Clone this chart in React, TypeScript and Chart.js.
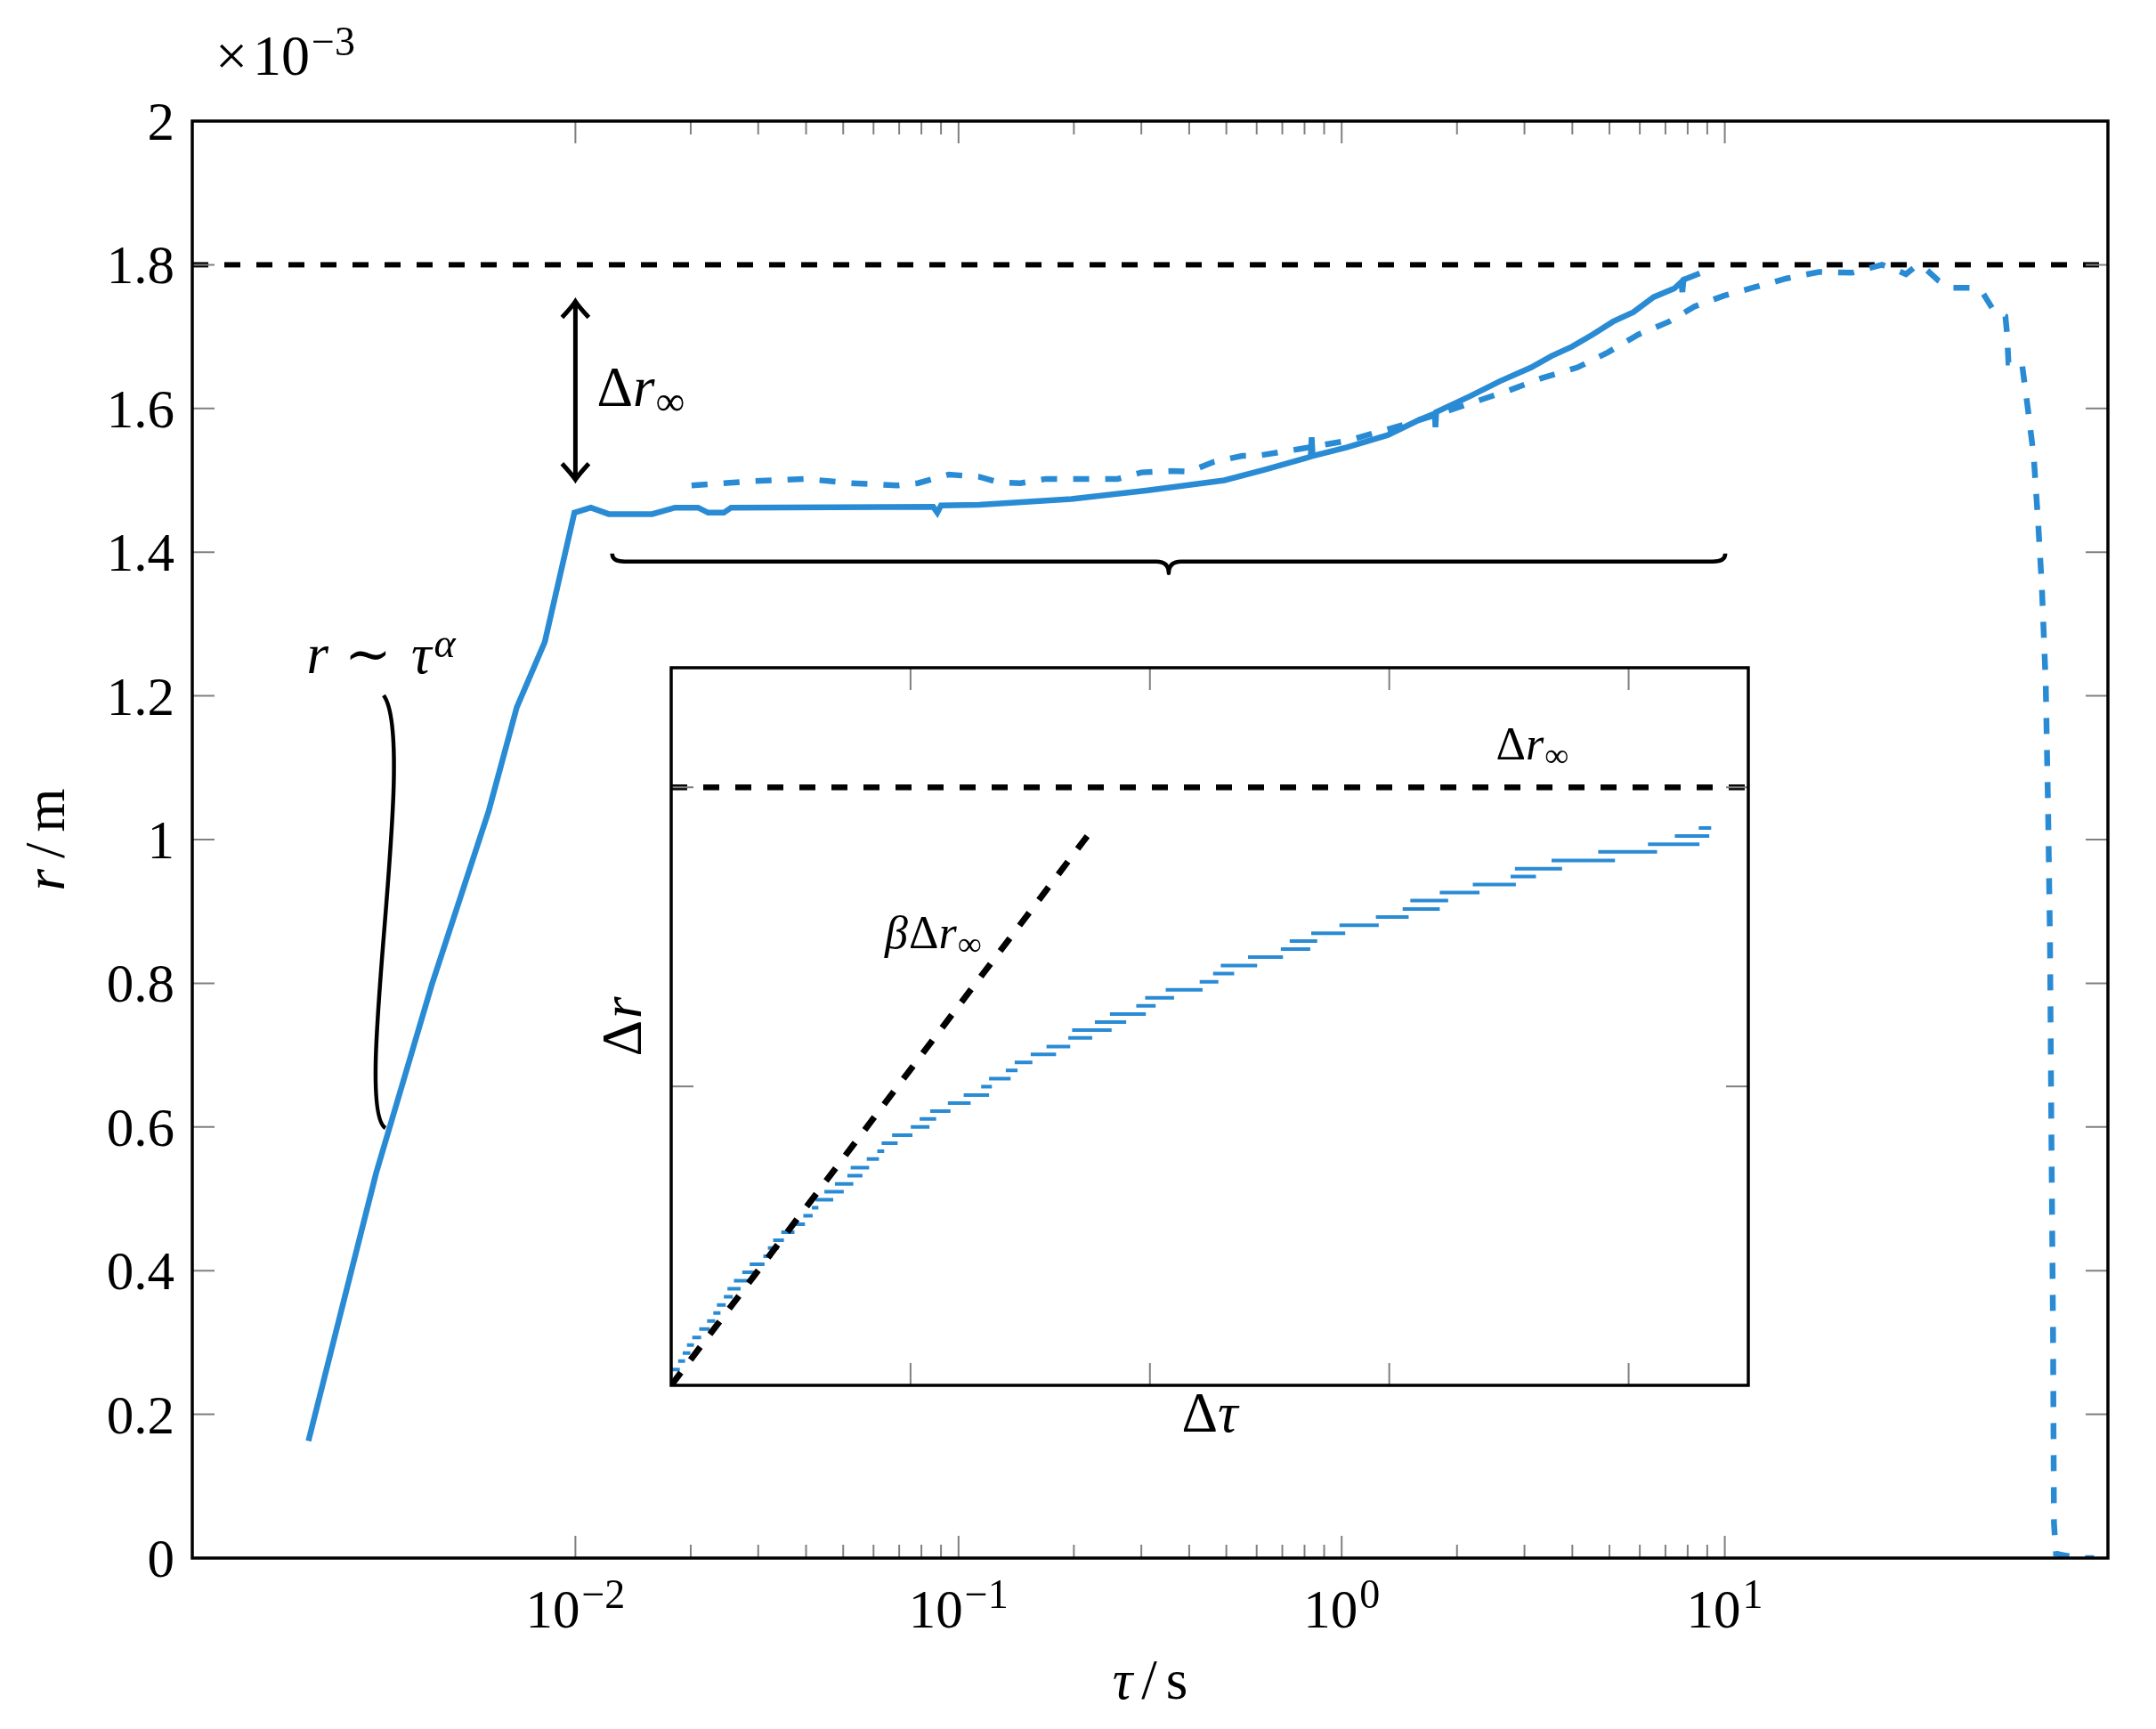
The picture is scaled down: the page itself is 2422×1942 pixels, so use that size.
import { useEffect, useRef } from 'react';
import { Chart, registerables, type ChartConfiguration, type Plugin } from 'chart.js';

Chart.register(...registerables);

// ── Page & style ───────────────────────────────────────────────────────────────

const W = 2422;
const H = 1942;
const BLUE = '#2a8bd5';
const INK = '#000000';
const TICK = '#808080';
const SERIF = '"Liberation Serif", "DejaVu Serif", serif';
const FS = 61;       // tick & axis labels
const FS_SUP = 46;   // superscripts
const FS_NOTE = 52;  // inset annotations

const MAIN_AREA = { left: 216, top: 136, right: 2368, bottom: 1750 };
const INSET_AREA = { left: 754, top: 750, right: 1964, bottom: 1556 };

// ── Main plot data (tau in s, r in 1e-3 m) ─────────────────────────────────────

const SOLID_TAU = [
  0.00201, 0.00244, 0.00302, 0.00423, 0.00594, 0.00703, 0.00832, 0.00994, 0.01097, 0.01222,
  0.01585, 0.0182, 0.0209, 0.0222, 0.0244, 0.0255, 0.0859, 0.088, 0.09, 0.113,
  0.197, 0.312, 0.494, 0.632, 0.808, 0.83, 0.835, 0.84, 1.033, 1.32,
  1.59, 1.75, 1.757, 1.765, 2.16, 2.59, 3.12, 3.53, 3.99, 4.52,
  5.11, 5.77, 6.52, 7.38, 7.7, 7.75, 7.8, 8.6,
];
const SOLID_R = [
  0.163, 0.341, 0.536, 0.8, 1.04, 1.184, 1.275, 1.455, 1.462, 1.453,
  1.453, 1.462, 1.462, 1.455, 1.455, 1.462, 1.463, 1.455, 1.465, 1.466,
  1.474, 1.486, 1.5, 1.515, 1.531, 1.533, 1.56, 1.534, 1.546, 1.563,
  1.584, 1.593, 1.574, 1.595, 1.617, 1.638, 1.657, 1.673, 1.686, 1.703,
  1.721, 1.734, 1.755, 1.767, 1.776, 1.762, 1.779, 1.788,
];

const DASH_TAU = [
  0.0201, 0.0293, 0.0398, 0.0525, 0.0692, 0.0783, 0.0942, 0.113, 0.128, 0.145,
  0.169, 0.26, 0.3, 0.36, 0.4, 0.465, 0.55, 0.6, 0.784, 1.03,
  1.32, 1.69, 2.22, 2.76, 3.32, 4.12, 4.95, 5.95, 7.16, 8.34,
  9.95, 12.0, 14.5, 17.6, 21.5, 25.7, 28, 29.7, 31.5, 33,
  36.1, 38.9, 44.2, 47, 50.5, 54, 54.5, 55, 59.6,
  61.8, 64, 65.7, 67.2, 68.8, 69.8, 70.6, 71.2, 71.9, 72.3,
  73.2, 84, 92,
];
const DASH_R = [
  1.493, 1.499, 1.502, 1.496, 1.493, 1.496, 1.508, 1.505, 1.497, 1.496,
  1.502, 1.502, 1.511, 1.513, 1.512, 1.526, 1.534, 1.534, 1.544, 1.555,
  1.571, 1.588, 1.609, 1.626, 1.642, 1.657, 1.678, 1.703, 1.721, 1.742,
  1.757, 1.769, 1.781, 1.79, 1.789, 1.8, 1.793, 1.787, 1.798, 1.797,
  1.778, 1.768, 1.768, 1.762, 1.735, 1.728, 1.706, 1.664, 1.664,
  1.6, 1.534, 1.444, 1.354, 1.219, 1.039, 0.859, 0.589, 0.318, 0.048,
  0.006, 0, 0,
];

const R_INF = 1.8;
const TAU_MIN = 0.001;
const TAU_MAX = 100;

// ── Main axes ──────────────────────────────────────────────────────────────────

const X_TICKS = [0.01, 0.1, 1, 10];
const X_TICK_EXP = ['−2', '−1', '0', '1'];
const X_MINOR_DECADES = [0.01, 0.1, 1];
const X_MINOR_MULT = [2, 3, 4, 5, 6, 7, 8, 9];
const Y_TICKS = [0, 0.2, 0.4, 0.6, 0.8, 1, 1.2, 1.4, 1.6, 1.8, 2];
const Y_TICK_LABELS = ['0', '0.2', '0.4', '0.6', '0.8', '1', '1.2', '1.4', '1.6', '1.8', '2'];

// ── Annotation anchors (data coordinates) ─────────────────────────────────────

const ARROW_TAU = 0.01;
const ARROW_R = [1.501, 1.749];
const BRACE_TAU = [0.01247, 10.03];
const BRACE_R = 1.387;
const PIN_TAU = [0.003159, 0.003891, 0.002605, 0.003193];
const PIN_R = [1.2007, 1.1338, 0.6258, 0.5985];
const POWER_LABEL = { tau: 0.00311, r: 1.2317 };

// ── Inset data ─────────────────────────────────────────────────────────────────

const STEP_LEVEL = [
  0.053, 0.081, 0.108, 0.135, 0.16, 0.188, 0.215, 0.242, 0.269, 0.296,
  0.323, 0.35, 0.378, 0.405, 0.432, 0.459, 0.485, 0.512, 0.539, 0.567,
  0.594, 0.621, 0.648, 0.674, 0.701, 0.728, 0.757, 0.783, 0.81, 0.837,
  0.864, 0.891, 0.917, 0.944, 0.971, 0.999, 1.026, 1.053, 1.08, 1.107,
  1.133, 1.162, 1.188, 1.215, 1.242, 1.269, 1.296, 1.323, 1.35, 1.377,
  1.404, 1.432, 1.459, 1.486, 1.512, 1.539, 1.566, 1.593, 1.621, 1.648,
  1.675, 1.702, 1.728, 1.755, 1.784, 1.81, 1.837, 1.864,
];
const STEP_START = [
  0.0, 0.029, 0.048, 0.066, 0.088, 0.117, 0.15, 0.176, 0.191, 0.22,
  0.235, 0.262, 0.297, 0.328, 0.385, 0.404, 0.426, 0.46, 0.507, 0.552,
  0.588, 0.603, 0.64, 0.684, 0.736, 0.75, 0.817, 0.861, 0.879, 0.923,
  1.001, 1.038, 1.082, 1.156, 1.222, 1.295, 1.328, 1.398, 1.435, 1.502,
  1.568, 1.659, 1.675, 1.77, 1.833, 1.943, 1.98, 2.066, 2.208, 2.264,
  2.296, 2.41, 2.547, 2.584, 2.674, 2.792, 2.944, 3.056, 3.088, 3.211,
  3.349, 3.507, 3.525, 3.678, 3.873, 4.081, 4.193, 4.293,
];
const STEP_END = [
  0.036, 0.058, 0.08, 0.095, 0.125, 0.161, 0.184, 0.206, 0.228, 0.257,
  0.29, 0.323, 0.353, 0.39, 0.422, 0.449, 0.471, 0.515, 0.559, 0.591,
  0.615, 0.677, 0.721, 0.761, 0.799, 0.827, 0.868, 0.89, 0.946, 1.008,
  1.079, 1.107, 1.167, 1.251, 1.328, 1.34, 1.418, 1.447, 1.509, 1.608,
  1.667, 1.759, 1.84, 1.901, 1.983, 2.024, 2.101, 2.22, 2.286, 2.352,
  2.448, 2.556, 2.67, 2.699, 2.816, 2.956, 3.081, 3.211, 3.246, 3.377,
  3.529, 3.613, 3.722, 3.943, 4.119, 4.296, 4.337, 4.345,
];

const DR_INF = 2;
const BETA_LINE_X = [0, 1.76];
const BETA_LINE_Y = [0, 1.86];
const INSET_X_MAX = 4.5;
const INSET_Y_MAX = 2.4;
const INSET_X_TICKS = [1, 2, 3, 4];
const INSET_Y_TICKS = [1, 2];
const BETA_LABEL = { x: 1.095, y: 1.462 };
const DRINF_LABEL = { x: 3.598, y: 2.092 };

// ── Text helpers ───────────────────────────────────────────────────────────────

type Run = { t: string; it?: boolean; size?: number; dy?: number; gap?: number };

function setFont(ctx: CanvasRenderingContext2D, r: Run, base: number) {
  ctx.font = `${r.it ? 'italic ' : ''}${r.size ?? base}px ${SERIF}`;
}

function drawRuns(
  ctx: CanvasRenderingContext2D,
  runs: Run[],
  x: number,
  y: number,
  align: 'left' | 'center' = 'left',
  base = FS,
) {
  ctx.textAlign = 'left';
  ctx.textBaseline = 'alphabetic';
  ctx.fillStyle = INK;
  let w = 0;
  for (const r of runs) {
    setFont(ctx, r, base);
    w += ctx.measureText(r.t).width + (r.gap ?? 0);
  }
  let cx = align === 'center' ? x - w / 2 : x;
  for (const r of runs) {
    setFont(ctx, r, base);
    ctx.fillText(r.t, cx, y + (r.dy ?? 0));
    cx += ctx.measureText(r.t).width + (r.gap ?? 0);
  }
}

// ── Main chart decorations ─────────────────────────────────────────────────────

const mainDecor: Plugin<'line'> = {
  id: 'mainDecor',
  afterDatasetsDraw(chart) {
    const { ctx, chartArea: a, scales } = chart;
    const px = (v: number) => scales.x.getPixelForValue(v);
    const py = (v: number) => scales.y.getPixelForValue(v);
    ctx.save();

    // inward ticks
    ctx.strokeStyle = TICK;
    ctx.lineWidth = 2;
    ctx.beginPath();
    for (const d of X_MINOR_DECADES) {
      for (const m of X_MINOR_MULT) {
        const x = px(m * d);
        ctx.moveTo(x, a.bottom); ctx.lineTo(x, a.bottom - 15);
        ctx.moveTo(x, a.top); ctx.lineTo(x, a.top + 15);
      }
    }
    for (const v of X_TICKS) {
      const x = px(v);
      ctx.moveTo(x, a.bottom); ctx.lineTo(x, a.bottom - 25);
      ctx.moveTo(x, a.top); ctx.lineTo(x, a.top + 25);
    }
    for (const v of Y_TICKS) {
      const y = py(v);
      ctx.moveTo(a.left, y); ctx.lineTo(a.left + 25, y);
      ctx.moveTo(a.right, y); ctx.lineTo(a.right - 25, y);
    }
    ctx.stroke();

    // frame
    ctx.strokeStyle = INK;
    ctx.lineWidth = 3.5;
    ctx.strokeRect(a.left, a.top, a.right - a.left, a.bottom - a.top);

    // tick labels
    ctx.fillStyle = INK;
    ctx.font = `${FS}px ${SERIF}`;
    ctx.textAlign = 'right';
    ctx.textBaseline = 'alphabetic';
    Y_TICKS.forEach((v, i) => ctx.fillText(Y_TICK_LABELS[i], a.left - 20, py(v) + 21));
    X_TICKS.forEach((v, i) => {
      drawRuns(ctx, [{ t: '10', gap: 2 }, { t: X_TICK_EXP[i], size: FS_SUP, dy: -22 }], px(v), a.bottom + 78, 'center');
    });

    // scale factor
    drawRuns(ctx, [{ t: '×', gap: 6 }, { t: '10', gap: 2 }, { t: '−3', size: FS_SUP, dy: -22 }], 242, a.top - 52, 'left', 64);

    // axis labels
    drawRuns(ctx, [{ t: 'τ', it: true, gap: 10 }, { t: '/', gap: 10 }, { t: 's' }], (a.left + a.right) / 2, 1908, 'center', 63);
    ctx.save();
    ctx.translate(72, (a.top + a.bottom) / 2);
    ctx.rotate(-Math.PI / 2);
    drawRuns(ctx, [{ t: 'r', it: true, gap: 12 }, { t: '/', gap: 12 }, { t: 'm' }], 0, 0, 'center', 63);
    ctx.restore();

    // double arrow for Δr∞
    const ax = px(ARROW_TAU);
    const yLo = py(ARROW_R[0]);
    const yHi = py(ARROW_R[1]);
    ctx.strokeStyle = INK;
    ctx.lineWidth = 5;
    ctx.lineJoin = 'miter';
    ctx.beginPath();
    ctx.moveTo(ax, yHi + 2);
    ctx.lineTo(ax, yLo - 2);
    ctx.moveTo(ax - 15, yHi + 18);
    ctx.quadraticCurveTo(ax - 4, yHi + 6, ax, yHi);
    ctx.quadraticCurveTo(ax + 4, yHi + 6, ax + 15, yHi + 18);
    ctx.moveTo(ax - 15, yLo - 18);
    ctx.quadraticCurveTo(ax - 4, yLo - 6, ax, yLo);
    ctx.quadraticCurveTo(ax + 4, yLo - 6, ax + 15, yLo - 18);
    ctx.stroke();
    drawRuns(ctx, [{ t: 'Δ' }, { t: 'r', it: true, gap: 1 }, { t: '∞', size: 46, dy: 10 }], ax + 24, (yLo + yHi) / 2 + 17, 'left', 63);

    // brace
    const bx0 = px(BRACE_TAU[0]);
    const bx1 = px(BRACE_TAU[1]);
    const bxm = (bx0 + bx1) / 2;
    const by = py(BRACE_R);
    ctx.lineWidth = 4.5;
    ctx.lineJoin = 'round';
    ctx.beginPath();
    ctx.moveTo(bx0, by - 9);
    ctx.quadraticCurveTo(bx0, by, bx0 + 14, by);
    ctx.lineTo(bxm - 14, by);
    ctx.quadraticCurveTo(bxm, by, bxm, by + 13);
    ctx.quadraticCurveTo(bxm, by, bxm + 14, by);
    ctx.lineTo(bx1 - 14, by);
    ctx.quadraticCurveTo(bx1, by, bx1, by - 9);
    ctx.stroke();

    // power-law pin
    ctx.lineWidth = 4.5;
    ctx.beginPath();
    ctx.moveTo(px(PIN_TAU[0]), py(PIN_R[0]));
    ctx.bezierCurveTo(
      px(PIN_TAU[1]), py(PIN_R[1]),
      px(PIN_TAU[2]), py(PIN_R[2]),
      px(PIN_TAU[3]), py(PIN_R[3]),
    );
    ctx.stroke();
    drawRuns(
      ctx,
      [
        { t: 'r', it: true, gap: 18 },
        { t: '∼', gap: 22 },
        { t: 'τ', it: true, gap: 3 },
        { t: 'α', it: true, size: FS_SUP, dy: -18 },
      ],
      px(POWER_LABEL.tau), py(POWER_LABEL.r), 'center', 63,
    );

    ctx.restore();
  },
};

// ── Inset decorations ──────────────────────────────────────────────────────────

const insetDecor: Plugin<'line'> = {
  id: 'insetDecor',
  beforeDatasetsDraw(chart) {
    const { ctx, chartArea: a } = chart;
    ctx.save();
    ctx.fillStyle = '#ffffff';
    ctx.fillRect(a.left, a.top, a.right - a.left, a.bottom - a.top);
    ctx.restore();
  },
  afterDatasetsDraw(chart) {
    const { ctx, chartArea: a, scales } = chart;
    const px = (v: number) => scales.x.getPixelForValue(v);
    const py = (v: number) => scales.y.getPixelForValue(v);
    ctx.save();

    ctx.strokeStyle = TICK;
    ctx.lineWidth = 2;
    ctx.beginPath();
    for (const v of INSET_X_TICKS) {
      const x = px(v);
      ctx.moveTo(x, a.bottom); ctx.lineTo(x, a.bottom - 25);
      ctx.moveTo(x, a.top); ctx.lineTo(x, a.top + 25);
    }
    for (const v of INSET_Y_TICKS) {
      const y = py(v);
      ctx.moveTo(a.left, y); ctx.lineTo(a.left + 25, y);
      ctx.moveTo(a.right, y); ctx.lineTo(a.right - 25, y);
    }
    ctx.stroke();

    ctx.strokeStyle = INK;
    ctx.lineWidth = 3.5;
    ctx.strokeRect(a.left, a.top, a.right - a.left, a.bottom - a.top);

    // axis labels
    drawRuns(ctx, [{ t: 'Δ' }, { t: 'τ', it: true }], (a.left + a.right) / 2, a.bottom + 52, 'center', 63);
    ctx.save();
    ctx.translate(a.left - 34, (a.top + a.bottom) / 2);
    ctx.rotate(-Math.PI / 2);
    drawRuns(ctx, [{ t: 'Δ', gap: 2 }, { t: 'r', it: true }], 0, 0, 'center', 63);
    ctx.restore();

    // annotations
    drawRuns(
      ctx,
      [{ t: 'β', it: true, gap: 1 }, { t: 'Δ' }, { t: 'r', it: true, gap: 1 }, { t: '∞', size: 38, dy: 8 }],
      px(BETA_LABEL.x), py(BETA_LABEL.y), 'center', FS_NOTE,
    );
    drawRuns(
      ctx,
      [{ t: 'Δ' }, { t: 'r', it: true, gap: 1 }, { t: '∞', size: 38, dy: 8 }],
      px(DRINF_LABEL.x), py(DRINF_LABEL.y), 'center', FS_NOTE,
    );

    ctx.restore();
  },
};

// ── Configs ────────────────────────────────────────────────────────────────────

function mainConfig(): ChartConfiguration<'line'> {
  return {
    type: 'line',
    data: {
      datasets: [
        {
          data: SOLID_TAU.map((x, i) => ({ x, y: SOLID_R[i] })),
          borderColor: BLUE,
          borderWidth: 6.5,
          pointRadius: 0,
          fill: false,
        },
        {
          data: DASH_TAU.map((x, i) => ({ x, y: DASH_R[i] })),
          borderColor: BLUE,
          borderWidth: 6.5,
          borderDash: [18, 18],
          pointRadius: 0,
          fill: false,
        },
        {
          data: [{ x: TAU_MIN, y: R_INF }, { x: TAU_MAX, y: R_INF }],
          borderColor: INK,
          borderWidth: 6,
          borderDash: [18, 18],
          pointRadius: 0,
          fill: false,
        },
      ],
    },
    options: {
      responsive: false,
      animation: false,
      devicePixelRatio: 1,
      layout: {
        padding: {
          left: MAIN_AREA.left,
          top: MAIN_AREA.top,
          right: W - MAIN_AREA.right,
          bottom: H - MAIN_AREA.bottom,
        },
      },
      plugins: { legend: { display: false }, tooltip: { enabled: false } },
      scales: {
        x: { type: 'logarithmic', min: TAU_MIN, max: TAU_MAX, display: false },
        y: { type: 'linear', min: 0, max: 2, display: false },
      },
    },
    plugins: [mainDecor],
  };
}

function insetConfig(): ChartConfiguration<'line'> {
  const steps: { x: number; y: number | null }[] = [];
  STEP_LEVEL.forEach((lvl, i) => {
    steps.push({ x: STEP_START[i], y: lvl });
    steps.push({ x: STEP_END[i], y: lvl });
    steps.push({ x: STEP_END[i], y: null });
  });
  return {
    type: 'line',
    data: {
      datasets: [
        {
          data: BETA_LINE_X.map((x, i) => ({ x, y: BETA_LINE_Y[i] })),
          borderColor: INK,
          borderWidth: 7,
          borderDash: [18, 18],
          pointRadius: 0,
          fill: false,
        },
        {
          data: [{ x: 0, y: DR_INF }, { x: INSET_X_MAX, y: DR_INF }],
          borderColor: INK,
          borderWidth: 6.5,
          borderDash: [18, 18],
          pointRadius: 0,
          fill: false,
        },
        {
          data: steps,
          borderColor: BLUE,
          borderWidth: 4,
          pointRadius: 0,
          spanGaps: false,
          fill: false,
        },
      ],
    },
    options: {
      responsive: false,
      animation: false,
      devicePixelRatio: 1,
      layout: {
        padding: {
          left: INSET_AREA.left,
          top: INSET_AREA.top,
          right: W - INSET_AREA.right,
          bottom: H - INSET_AREA.bottom,
        },
      },
      plugins: { legend: { display: false }, tooltip: { enabled: false } },
      scales: {
        x: { type: 'linear', min: 0, max: INSET_X_MAX, display: false },
        y: { type: 'linear', min: 0, max: INSET_Y_MAX, display: false },
      },
    },
    plugins: [insetDecor],
  };
}

// ── App ────────────────────────────────────────────────────────────────────────

export default function App() {
  const mainRef = useRef<HTMLCanvasElement>(null);
  const insetRef = useRef<HTMLCanvasElement>(null);

  useEffect(() => {
    document.body.style.margin = '0';
    if (!mainRef.current || !insetRef.current) return;
    const main = new Chart(mainRef.current, mainConfig());
    const inset = new Chart(insetRef.current, insetConfig());
    return () => { main.destroy(); inset.destroy(); };
  }, []);

  const canvasStyle = { position: 'absolute' as const, left: 0, top: 0, width: W, height: H };

  return (
    <div style={{ position: 'relative', width: W, height: H, background: '#ffffff', overflow: 'hidden' }}>
      <canvas ref={mainRef} width={W} height={H} style={canvasStyle} />
      <canvas ref={insetRef} width={W} height={H} style={canvasStyle} />
    </div>
  );
}
